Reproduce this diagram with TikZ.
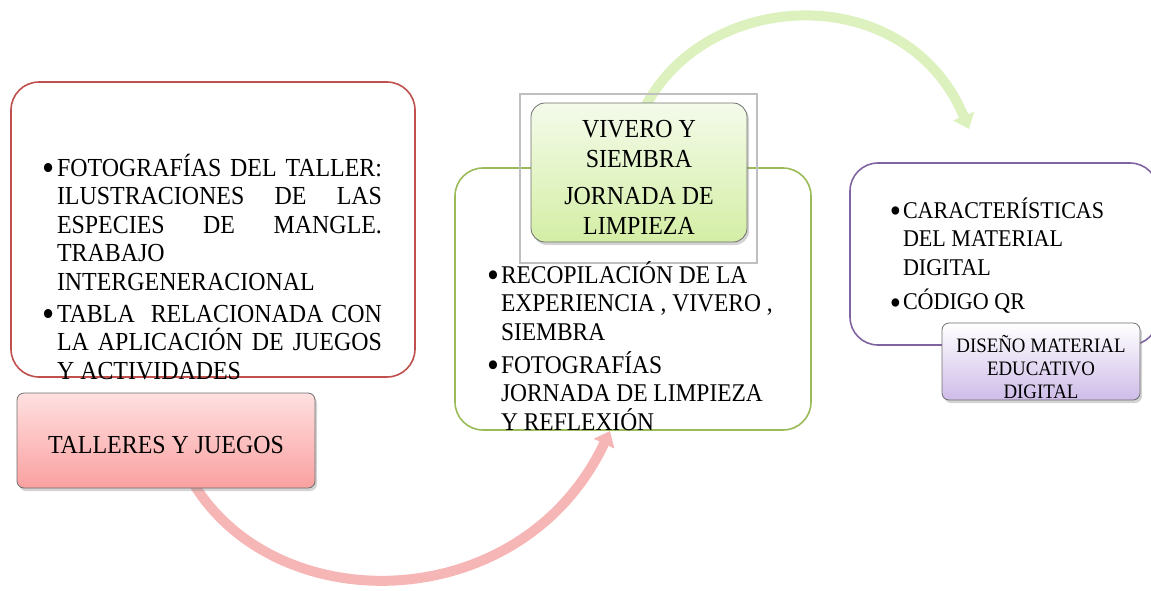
\documentclass[tikz,border=0pt]{standalone}
\usepackage{fontspec}
\setmainfont[FakeStretch=0.92]{Liberation Serif}
\usetikzlibrary{arrows.meta,shadows}
\definecolor{redline}{RGB}{192,80,77}
\definecolor{greenline}{RGB}{155,187,89}
\definecolor{purpleline}{RGB}{128,100,162}
\definecolor{pinktop}{RGB}{255,224,224}
\definecolor{pinkbot}{RGB}{250,160,160}
\definecolor{greentop}{RGB}{244,251,234}
\definecolor{greenbot}{RGB}{212,238,165}
\definecolor{purptop}{RGB}{255,255,255}
\definecolor{purpbot}{RGB}{206,188,232}
\definecolor{pinkarrow}{RGB}{247,182,182}
\definecolor{greenarrow}{RGB}{220,241,190}
\definecolor{boxedge}{RGB}{110,110,110}
\newcommand{\bul}{\leavevmode\llap{\raisebox{-4.5pt}{\scalebox{1.45}{\textbullet}}\hspace{2pt}}}
\begin{document}
\begin{tikzpicture}[x=1pt,y=-1pt,
  outline/.style={line width=1.6pt, rounded corners=28pt},
  labelbox/.style={draw=boxedge, line width=0.8pt, rounded corners=7pt,
     drop shadow={opacity=0.35, shadow xshift=2pt, shadow yshift=-3pt}},
  txt/.style={inner sep=0pt, outer sep=0pt, text=black},
  bigarrow/.style={line width=10pt, -{Triangle[width=22pt,length=14pt]}}]
\useasboundingbox (0,0) rectangle (1151,590);
% connector end points
\coordinate (pinkstart) at (186,470);
\coordinate (pinktip) at (610,431);
\coordinate (greenstart) at (640,118);
\coordinate (greentip) at (969,129);
% arrows
\draw[bigarrow, draw=pinkarrow, color=pinkarrow] (pinkstart) .. controls (262,622) and (520,622) .. (pinktip);
\draw[bigarrow, draw=greenarrow, color=greenarrow] (greenstart) .. controls (695,-12) and (905,-25) .. (greentip);
% outline boxes
\draw[outline, draw=redline] (11,82) rectangle (415,377);
\draw[outline, draw=greenline] (455,168) rectangle (811,430);
\draw[outline, draw=purpleline] (850,163) rectangle (1158,345);
\node[draw=black!25, line width=1.2pt, minimum width=237pt, minimum height=169pt, inner sep=0pt] (frame) at (638.5,178.5) {};
% label boxes
\node[labelbox, top color=pinktop, bottom color=pinkbot, minimum width=298pt, minimum height=95pt, inner sep=0pt] (pinkbox) at (166,440.5) {};
\node[labelbox, rounded corners=14pt, top color=greentop, bottom color=greenbot, minimum width=216pt, minimum height=139pt, inner sep=0pt] (greenbox) at (639,172.5) {};
\node[labelbox, top color=purptop, bottom color=purpbot, minimum width=198pt, minimum height=77pt, inner sep=0pt] (purpbox) at (1041,361.5) {};
% texts
\node[txt, anchor=base west] (lefttext) at (57,176) {\parbox[t]{330pt}{\fontsize{26}{28.5}\selectfont
\bul\makebox[325pt][s]{FOTOGRAFÍAS DEL TALLER:}\\
\makebox[325pt][s]{ILUSTRACIONES \ DE \ LAS}\\
\makebox[325pt][s]{ESPECIES \ DE \ MANGLE.}\\
TRABAJO\\
INTERGENERACIONAL\\[3.5pt]
\bul\makebox[325pt][s]{TABLA \ RELACIONADA CON}\\
\makebox[325pt][s]{LA APLICACIÓN DE JUEGOS}\\
Y ACTIVIDADES}};
\node[txt, anchor=base] (pinktext) at (166,453) {\fontsize{26}{28}\selectfont TALLERES Y JUEGOS};
\node[txt, anchor=base] (greentext) at (639,137) {\parbox[t]{212pt}{\centering\fontsize{26}{30}\selectfont
VIVERO Y\\ SIEMBRA\\[7pt] JORNADA DE\\ LIMPIEZA}};
\node[txt, anchor=base west] (midtext) at (501,283) {\parbox[t]{300pt}{\fontsize{25.5}{28.5}\selectfont
\bul RECOPILACIÓN DE LA\\
EXPERIENCIA , VIVERO ,\\
SIEMBRA\\[4.5pt]
\bul FOTOGRAFÍAS\\
JORNADA DE LIMPIEZA\\
Y REFLEXIÓN}};
\node[txt, anchor=base west] (righttext) at (903,218) {\parbox[t]{240pt}{\fontsize{24}{28.5}\selectfont
\bul CARACTERÍSTICAS\\
DEL MATERIAL\\
DIGITAL\\[6pt]
\bul CÓDIGO QR}};
\node[txt, anchor=base] (purptext) at (1041,352) {\parbox[t]{196pt}{\centering\fontsize{20.5}{23}\selectfont
DISEÑO MATERIAL\\ EDUCATIVO\\ DIGITAL}};
\end{tikzpicture}
\end{document}
